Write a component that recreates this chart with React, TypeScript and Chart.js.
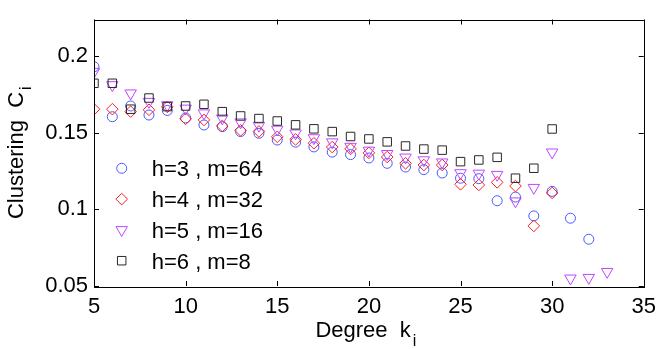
import React, { useEffect, useRef } from 'react';
import { Chart, registerables } from 'chart.js';
import { drawPoint } from 'chart.js/helpers';

Chart.register(...registerables);

// ---- data ----
const kH3 = [5, 6, 7, 8, 9, 10, 11, 12, 13, 14, 15, 16, 17, 18, 19, 20, 21, 22, 23, 24, 25, 26, 27, 28, 29, 30, 31, 32];
const cH3 = [0.193, 0.1604, 0.1674, 0.1615, 0.1645, 0.1596, 0.155, 0.1539, 0.1507, 0.1496, 0.1452, 0.1438, 0.1407, 0.1373, 0.1357, 0.1335, 0.13, 0.1276, 0.1259, 0.1237, 0.1203, 0.12, 0.1056, 0.108, 0.0957, 0.1117, 0.0942, 0.0805];

const kH4 = [5, 6, 7, 8, 9, 10, 11, 12, 13, 14, 15, 16, 17, 18, 19, 20, 21, 22, 23, 24, 25, 26, 27, 28, 29, 30];
const cH4 = [0.1653, 0.1653, 0.1637, 0.1649, 0.1668, 0.159, 0.1583, 0.1544, 0.1515, 0.1508, 0.1473, 0.1456, 0.1431, 0.1406, 0.1394, 0.1368, 0.1341, 0.13, 0.1289, 0.1289, 0.1163, 0.1159, 0.1176, 0.1152, 0.0892, 0.1107];

const kH5 = [5, 6, 7, 8, 9, 10, 11, 12, 13, 14, 15, 16, 17, 18, 19, 20, 21, 22, 23, 24, 25, 26, 27, 28, 29, 30, 31, 32, 33];
const cH5 = [0.1898, 0.1811, 0.1757, 0.1702, 0.168, 0.1658, 0.1627, 0.1594, 0.1568, 0.1546, 0.1521, 0.1496, 0.1465, 0.1438, 0.1409, 0.1384, 0.1362, 0.1339, 0.1321, 0.1307, 0.1237, 0.1234, 0.1226, 0.1053, 0.1141, 0.1372, 0.055, 0.0554, 0.0593];

const kH6 = [5, 6, 7, 8, 9, 10, 11, 12, 13, 14, 15, 16, 17, 18, 19, 20, 21, 22, 23, 24, 25, 26, 27, 28, 29, 30];
const cH6 = [0.1822, 0.1822, 0.1653, 0.1726, 0.167, 0.1674, 0.1685, 0.1637, 0.1609, 0.1592, 0.1576, 0.1551, 0.1525, 0.1507, 0.1475, 0.1459, 0.144, 0.1413, 0.1393, 0.1386, 0.1311, 0.1322, 0.1339, 0.1203, 0.1268, 0.1524];

const seriesLabels = ['h=3 , m=64', 'h=4 , m=32', 'h=5 , m=16', 'h=6 , m=8'];

const xTicks = [5, 10, 15, 20, 25, 30, 35];
const xTickLabels = ['5', '10', '15', '20', '25', '30', '35'];
const yTicks = [0.05, 0.1, 0.15, 0.2];
const yTickLabels = ['0.05', '0.1', '0.15', '0.2'];

const xTitle = 'Degree  k';
const xTitleSub = 'i';
const yTitle = 'Clustering  C';
const yTitleSub = 'i';

const FONT = "'Liberation Sans', Arial, Helvetica, sans-serif";

const toPts = (ks: number[], cs: number[]) => ks.map((k, i) => ({ x: k, y: cs[i] }));

const framePlugin = {
  id: 'framePlugin',
  afterDraw(chart: any) {
    const { ctx, chartArea: a, scales } = chart;
    const xs = scales.x;
    const ys = scales.y;
    ctx.save();
    ctx.strokeStyle = '#000';
    ctx.lineWidth = 1;
    // box
    ctx.strokeRect(Math.round(a.left) + 0.5, Math.round(a.top) + 0.5, Math.round(a.right - a.left), Math.round(a.bottom - a.top));
    const tl = 5;
    ctx.beginPath();
    xTicks.forEach((v) => {
      const px = Math.round(xs.getPixelForValue(v)) + 0.5;
      ctx.moveTo(px, a.bottom);
      ctx.lineTo(px, a.bottom - tl);
      ctx.moveTo(px, a.top);
      ctx.lineTo(px, a.top + tl);
    });
    yTicks.forEach((v) => {
      const py = Math.round(ys.getPixelForValue(v)) + 0.5;
      ctx.moveTo(a.left, py);
      ctx.lineTo(a.left + tl, py);
      ctx.moveTo(a.right, py);
      ctx.lineTo(a.right - tl, py);
    });
    ctx.stroke();

    // axis titles
    ctx.fillStyle = '#000';
    ctx.textBaseline = 'alphabetic';
    ctx.textAlign = 'left';
    const cx = (a.left + a.right) / 2;
    ctx.font = `22px ${FONT}`;
    const w1 = ctx.measureText(xTitle).width;
    ctx.font = `16px ${FONT}`;
    const w2 = ctx.measureText(xTitleSub).width;
    const x0 = cx - (w1 + w2 + 2) / 2 - 3;
    ctx.font = `22px ${FONT}`;
    ctx.fillText(xTitle, x0, 337);
    ctx.font = `16px ${FONT}`;
    ctx.fillText(xTitleSub, x0 + w1 + 2, 346);

    const cy = (a.top + a.bottom) / 2;
    ctx.save();
    ctx.translate(23, cy);
    ctx.rotate(-Math.PI / 2);
    ctx.font = `22px ${FONT}`;
    const v1 = ctx.measureText(yTitle).width;
    ctx.font = `16px ${FONT}`;
    const v2 = ctx.measureText(yTitleSub).width;
    const y0 = -(v1 + v2 + 2) / 2;
    ctx.font = `22px ${FONT}`;
    ctx.fillText(yTitle, y0, 0);
    ctx.font = `16px ${FONT}`;
    ctx.fillText(yTitleSub, y0 + v1 + 2, 8);
    ctx.restore();

    // legend
    const lx = 121.7;
    const ly0 = 168.3;
    const step = 30.8;
    const order = [0, 1, 2, 3];
    order.forEach((di, i) => {
      const ds = chart.data.datasets[di];
      const y = ly0 + i * step;
      ctx.strokeStyle = ds.borderColor;
      ctx.fillStyle = 'rgba(0,0,0,0)';
      ctx.lineWidth = 1;
      drawPoint(ctx, { pointStyle: ds.pointStyle, radius: ds.pointRadius, rotation: ds.rotation || 0, borderWidth: 1 }, lx, y);
      ctx.fillStyle = '#000';
      ctx.font = `22px ${FONT}`;
      ctx.fillText(ds.label, 151.7, y + 8);
    });
    ctx.restore();
  },
};

export default function App() {
  const ref = useRef<HTMLCanvasElement | null>(null);
  useEffect(() => {
    if (!ref.current) return;
    const chart = new Chart(ref.current, {
      type: 'scatter',
      data: {
        datasets: [
          {
            label: seriesLabels[0],
            data: toPts(kH3, cH3),
            pointStyle: 'circle',
            pointRadius: 5,
            borderColor: 'rgb(70, 90, 255)',
            backgroundColor: 'rgba(0,0,0,0)',
            borderWidth: 1,
            order: 4,
          },
          {
            label: seriesLabels[1],
            data: toPts(kH4, cH4),
            pointStyle: 'rectRot',
            pointRadius: 5.8,
            borderColor: 'rgb(255, 30, 30)',
            backgroundColor: 'rgba(0,0,0,0)',
            borderWidth: 1,
            order: 3,
          },
          {
            label: seriesLabels[2],
            data: toPts(kH5, cH5),
            pointStyle: 'triangle',
            rotation: 180,
            pointRotation: 180,
            pointRadius: 6.6,
            borderColor: 'rgb(190, 70, 255)',
            backgroundColor: 'rgba(0,0,0,0)',
            borderWidth: 1,
            order: 2,
          },
          {
            label: seriesLabels[3],
            data: toPts(kH6, cH6),
            pointStyle: 'rect',
            pointRadius: 6,
            borderColor: 'rgb(40, 40, 40)',
            backgroundColor: 'rgba(0,0,0,0)',
            borderWidth: 1,
            order: 1,
          },
        ] as any,
      },
      options: {
        animation: false,
        responsive: false,
        maintainAspectRatio: false,
        events: [],
        layout: { padding: { left: 0, right: 18, top: 19.5, bottom: 0 } },
        plugins: { legend: { display: false }, tooltip: { enabled: false } },
        scales: {
          x: {
            type: 'linear',
            min: 5,
            max: 35,
            afterBuildTicks: (s: any) => {
              s.ticks = xTicks.map((v) => ({ value: v }));
            },
            afterFit: (s: any) => {
              s.height = 63;
            },
            grid: { display: false, drawTicks: false },
            border: { display: false },
            ticks: {
              padding: 8,
              maxRotation: 0,
              autoSkip: false,
              color: '#000',
              font: { family: FONT, size: 22 },
              callback: (_v: any, i: number) => xTickLabels[i],
            },
          },
          y: {
            type: 'linear',
            min: 0.05,
            max: 0.2238,
            afterBuildTicks: (s: any) => {
              s.ticks = yTicks.map((v) => ({ value: v }));
            },
            afterFit: (s: any) => {
              s.width = 94;
            },
            grid: { display: false, drawTicks: false },
            border: { display: false },
            ticks: {
              padding: 6,
              autoSkip: false,
              color: '#000',
              font: { family: FONT, size: 22 },
              callback: (_v: any, i: number) => yTickLabels[i],
            },
          },
        },
      } as any,
      plugins: [framePlugin],
    });
    return () => chart.destroy();
  }, []);
  return (
    <div style={{ position: 'absolute', left: 0, top: 0, width: 664, height: 349, background: '#fff' }}>
      <canvas ref={ref} width={664} height={349} style={{ width: 664, height: 349 }} />
    </div>
  );
}
